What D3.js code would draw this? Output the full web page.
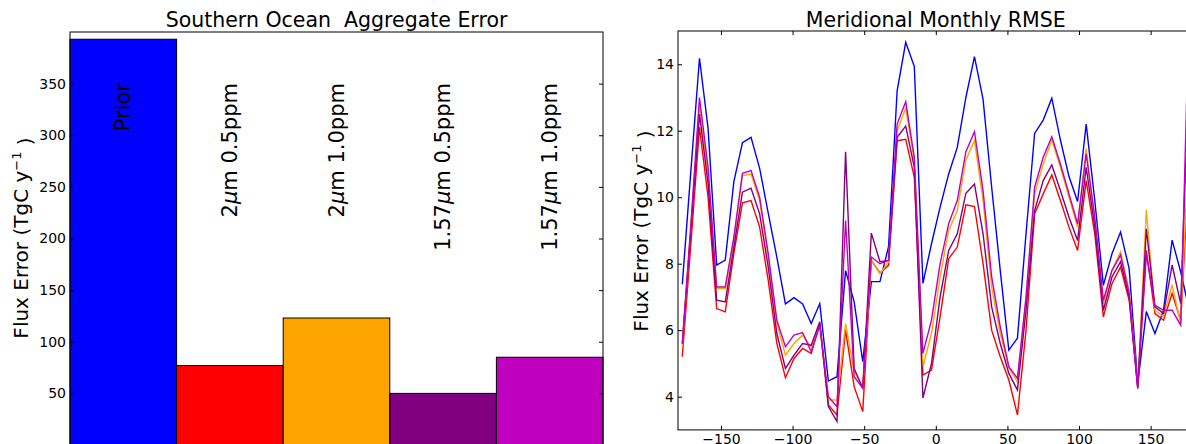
<!DOCTYPE html>
<html>
<head>
<meta charset="utf-8">
<script src="https://cdn.jsdelivr.net/npm/d3@7"></script>
<style>
  body { margin: 0; background: #fff; }
  text { font-family: "DejaVu Sans", sans-serif; fill: #000; white-space: pre; }
</style>
</head>
<body>
<svg id="fig" width="1186" height="444"></svg>
<script>
// runs (bar categories and line series share these)
var runs = ["Prior", "2μm 0.5ppm", "2μm 1.0ppm", "1.57μm 0.5ppm", "1.57μm 1.0ppm"];
var runColors = ["#0000ff", "#ff0000", "#ffa500", "#800080", "#bf00bf"];

// Southern Ocean aggregate error (TgC/yr)
var aggError = [393, 77, 123, 50, 85];
var aggTicks = [50, 100, 150, 200, 250, 300, 350];

// meridional monthly RMSE, one value per 6 degree longitude band
var lon = [-177, -171, -165, -159, -153, -147, -141, -135, -129, -123,
           -117, -111, -105, -99, -93, -87, -81, -75, -69, -63,
           -57, -51, -45, -39, -33, -27, -21, -15, -9, -3,
           3, 9, 15, 21, 27, 33, 39, 45, 51, 57,
           63, 69, 75, 81, 87, 93, 99, 105, 111, 117,
           123, 129, 135, 141, 147, 153, 159, 165, 171, 177];

var rmsePrior = [7.38, 10.8, 14.18, 12.07, 7.96, 8.11, 10.47, 11.64, 11.8, 10.87,
                 9.52, 8.2, 6.79, 6.98, 6.79, 6.2, 6.8, 4.47, 4.6, 7.79,
                 6.85, 5.05, 7.46, 7.46, 8.51, 13.2, 14.66, 13.93, 7.41, 8.6,
                 9.7, 10.7, 11.5, 13.0, 14.23, 12.94, 10.3, 7.8, 5.4, 5.76,
                 8.9, 11.92, 12.32, 12.98, 11.72, 10.62, 9.87, 12.2, 9.9, 7.35,
                 8.3, 8.95, 7.85, 4.4, 6.56, 5.9, 6.6, 8.71, 7.75, 6.6];

var rmse2um05 = [5.2, 8.6, 12.1, 10.0, 6.65, 6.55, 8.31, 9.83, 9.9, 9.1,
                 7.5, 5.6, 4.57, 5.15, 5.45, 5.3, 6.2, 3.75, 3.45, 6.0,
                 4.3, 3.55, 8.1, 7.72, 7.95, 11.7, 11.74, 10.6, 4.65, 4.8,
                 6.4, 8.15, 8.5, 9.77, 9.72, 8.0, 6.0, 5.2, 4.5, 3.45,
                 6.0, 9.5, 10.1, 10.67, 9.9, 9.1, 8.4, 10.5, 8.9, 6.4,
                 7.4, 7.9, 6.9, 4.3, 8.4, 6.5, 6.3, 7.1, 6.3, 11.0];

var rmse2um10 = [5.5, 9.1, 12.8, 10.7, 7.25, 7.25, 8.7, 10.65, 10.7, 9.9,
                 8.2, 6.2, 5.25, 5.6, 5.85, 5.5, 6.1, 3.9, 3.9, 6.2,
                 4.75, 4.3, 8.1, 7.7, 8.05, 12.0, 12.68, 11.1, 4.9, 5.9,
                 7.6, 9.0, 9.6, 11.12, 11.7, 9.9, 7.3, 5.9, 4.86, 4.45,
                 6.9, 10.1, 11.0, 11.72, 10.9, 10.0, 9.1, 11.47, 9.3, 6.8,
                 7.8, 8.36, 7.2, 4.3, 9.62, 6.6, 6.4, 7.36, 6.2, 12.0];

var rmse157um05 = [5.6, 9.0, 12.5, 10.4, 6.9, 6.85, 8.5, 10.15, 10.27, 9.5,
                   7.9, 5.9, 4.85, 5.25, 5.6, 5.55, 6.25, 3.7, 3.25, 11.37,
                   4.85, 4.25, 8.92, 8.06, 8.1, 11.8, 12.14, 10.9, 3.96, 5.0,
                   7.0, 8.4, 8.9, 10.12, 10.4, 8.9, 6.7, 5.6, 4.7, 4.2,
                   6.6, 9.6, 10.5, 10.97, 10.2, 9.4, 8.7, 10.9, 9.1, 6.6,
                   7.6, 8.06, 7.0, 4.25, 9.05, 6.7, 6.5, 7.96, 6.8, 14.0];

var rmse157um10 = [5.6, 9.2, 13.0, 10.9, 7.3, 7.3, 8.8, 10.72, 10.8, 10.0,
                   8.3, 6.3, 5.5, 5.85, 5.93, 5.35, 6.15, 4.0, 3.7, 9.3,
                   4.6, 4.25, 8.2, 8.0, 8.1, 12.2, 12.87, 11.2, 5.3, 6.3,
                   8.0, 9.2, 9.9, 11.37, 11.97, 10.2, 7.6, 6.1, 4.9, 4.55,
                   7.0, 10.3, 11.2, 11.82, 11.0, 10.1, 9.2, 11.3, 9.4, 6.9,
                   7.8, 8.26, 7.1, 4.25, 8.3, 6.75, 6.6, 6.6, 6.15, 16.0];

var rmseSeries = [rmsePrior, rmse2um05, rmse2um10, rmse157um05, rmse157um10];
var lonTicks = [-150, -100, -50, 0, 50, 100, 150];
var rmseTicks = [4, 6, 8, 10, 12, 14];

var svg = d3.select("#fig");

function yLabel(g, x, y) {
    var t = g.append("text")
        .attr("transform", "translate(" + x + "," + y + ") rotate(-90)")
        .attr("text-anchor", "middle")
        .style("font-size", "20px");
    t.append("tspan").text("Flux Error (TgC y");
    t.append("tspan").attr("dy", "-0.55em").style("font-size", "13px").text("−1");
    t.append("tspan").attr("dy", "0.55em").text(" )");
}

// ---------- left: bars ----------
var xL = d3.scaleBand().domain(runs).range([70, 603]).padding(0);
var yL = d3.scaleLinear().domain([0, 400]).range([445, 32]);

var gL = svg.append("g");

gL.selectAll("rect.bar")
    .data(aggError)
    .enter().append("rect")
    .attr("class", "bar")
    .attr("x", function(d, i) { return xL(runs[i]); })
    .attr("y", function(d) { return yL(d); })
    .attr("width", xL.bandwidth())
    .attr("height", function(d) { return yL(0) - yL(d); })
    .attr("fill", function(d, i) { return runColors[i]; })
    .attr("stroke", "#000")
    .attr("stroke-width", 1);

gL.append("g")
    .attr("transform", "translate(70,0)")
    .call(d3.axisLeft(yL).tickValues(aggTicks).tickSizeInner(-4).tickSizeOuter(0).tickPadding(4))
    .call(function(g) { g.select(".domain").remove(); })
    .call(function(g) { g.selectAll("text").style("font-size", "14px").attr("fill", "#000"); });

gL.append("g")
    .attr("transform", "translate(603,0)")
    .call(d3.axisRight(yL).tickValues(aggTicks).tickSizeInner(-4).tickSizeOuter(0).tickFormat(""))
    .call(function(g) { g.select(".domain").remove(); });

gL.append("rect")
    .attr("x", 70).attr("y", yL(400))
    .attr("width", 533).attr("height", yL(0) - yL(400) + 10)
    .attr("fill", "none").attr("stroke", "#000").attr("stroke-width", 1);

// rotated run names inside the bars
gL.selectAll("text.runname")
    .data(runs)
    .enter().append("text")
    .attr("class", "runname")
    .attr("transform", function(d) {
        return "translate(" + (xL(d) + xL.bandwidth() / 2) + ",83) rotate(-90)";
    })
    .attr("text-anchor", "end")
    .attr("dominant-baseline", "central")
    .style("font-size", "21px")
    .each(function(d) {
        var parts = d.split("μ");
        var t = d3.select(this);
        t.append("tspan").text(parts[0]);
        if (parts.length > 1) {
            t.append("tspan").style("font-style", "italic").text("μ");
            t.append("tspan").text(parts[1]);
        }
    });

gL.append("text")
    .attr("x", 336.5).attr("y", 26.5)
    .attr("text-anchor", "middle")
    .style("font-size", "20.5px")
    .text("Southern Ocean  Aggregate Error");

yLabel(gL, 28, 238);

// ---------- right: lines ----------
var xR = d3.scaleLinear().domain([-180, 180]).range([678, 1193.6]);
var yR = d3.scaleLinear().domain([3, 15]).range([429.9, 31]);

var gR = svg.append("g");

gR.append("clipPath").attr("id", "clipR")
    .append("rect")
    .attr("x", xR(-180)).attr("y", yR(15))
    .attr("width", xR(180) - xR(-180)).attr("height", yR(3) - yR(15));

var line = d3.line()
    .x(function(d, i) { return xR(lon[i]); })
    .y(function(d) { return yR(d); });

gR.append("g")
    .attr("clip-path", "url(#clipR)")
    .selectAll("path")
    .data(rmseSeries)
    .enter().append("path")
    .attr("d", line)
    .attr("fill", "none")
    .attr("stroke", function(d, i) { return runColors[i]; })
    .attr("stroke-width", 1.4)
    .attr("stroke-linejoin", "miter");

gR.append("g")
    .attr("transform", "translate(0," + yR(3) + ")")
    .call(d3.axisBottom(xR).tickValues(lonTicks).tickSizeInner(-4).tickSizeOuter(0).tickPadding(4))
    .call(function(g) { g.select(".domain").remove(); })
    .call(function(g) { g.selectAll("text").style("font-size", "14px").attr("fill", "#000"); });

gR.append("g")
    .attr("transform", "translate(0," + yR(15) + ")")
    .call(d3.axisTop(xR).tickValues(lonTicks).tickSizeInner(-4).tickSizeOuter(0).tickFormat(""))
    .call(function(g) { g.select(".domain").remove(); });

gR.append("g")
    .attr("transform", "translate(" + xR(-180) + ",0)")
    .call(d3.axisLeft(yR).tickValues(rmseTicks).tickSizeInner(-4).tickSizeOuter(0).tickPadding(4))
    .call(function(g) { g.select(".domain").remove(); })
    .call(function(g) { g.selectAll("text").style("font-size", "14px").attr("fill", "#000"); });

gR.append("g")
    .attr("transform", "translate(" + xR(180) + ",0)")
    .call(d3.axisRight(yR).tickValues(rmseTicks).tickSizeInner(-4).tickSizeOuter(0).tickFormat(""))
    .call(function(g) { g.select(".domain").remove(); });

gR.append("rect")
    .attr("x", xR(-180)).attr("y", yR(15))
    .attr("width", xR(180) - xR(-180)).attr("height", yR(3) - yR(15))
    .attr("fill", "none").attr("stroke", "#000").attr("stroke-width", 1);

gR.append("text")
    .attr("x", xR(0)).attr("y", 26.5)
    .attr("text-anchor", "middle")
    .style("font-size", "20.5px")
    .text("Meridional Monthly RMSE");

yLabel(gR, 648, 231);
</script>
</body>
</html>
